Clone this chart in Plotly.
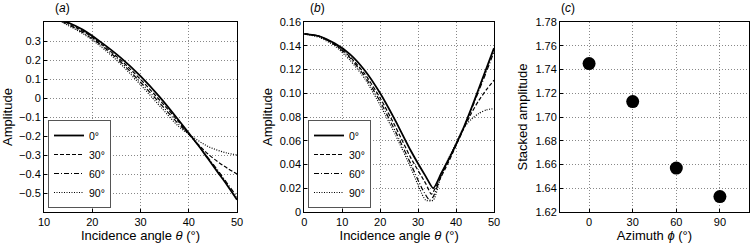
import plotly.graph_objects as go

# ---------------- data ----------------
azimuth_labels = ["0°", "30°", "60°", "90°"]

# panel (a)
a_theta = [10, 14, 18, 22, 26, 30, 34, 38, 40, 42, 44, 46, 48, 50]
a_0 = [0.47, 0.41, 0.36, 0.29, 0.21, 0.115, 0.005, -0.12, -0.185, -0.25, -0.32, -0.39, -0.46, -0.535]
a_30 = [0.46, 0.405, 0.352, 0.282, 0.197, 0.098, -0.012, -0.128, -0.19, -0.245, -0.295, -0.335, -0.37, -0.40]
a_60 = [0.455, 0.40, 0.345, 0.275, 0.187, 0.083, -0.027, -0.14, -0.19, -0.25, -0.315, -0.38, -0.45, -0.52]
a_90 = [0.45, 0.395, 0.34, 0.266, 0.176, 0.07, -0.042, -0.152, -0.19, -0.225, -0.255, -0.275, -0.29, -0.30]

# panel (b)
b_theta_0 = [0, 4, 8, 12, 16, 20, 24, 28, 32, 34, 36, 38, 40, 42, 44, 46, 48, 50]
b_0 = [0.150, 0.148, 0.142, 0.133, 0.119, 0.100, 0.077, 0.052, 0.030, 0.020, 0.032, 0.044, 0.057, 0.071, 0.087, 0.104, 0.121, 0.138]
b_theta_30 = [0, 4, 8, 12, 16, 20, 24, 28, 32, 33.5, 35, 38, 40, 42, 44, 46, 48, 50]
b_30 = [0.150, 0.148, 0.141, 0.131, 0.116, 0.096, 0.072, 0.046, 0.024, 0.015, 0.023, 0.042, 0.056, 0.070, 0.083, 0.094, 0.103, 0.111]
b_theta_60 = [0, 4, 8, 12, 16, 20, 24, 28, 31, 33, 34, 36, 38, 40, 42, 44, 46, 48, 50]
b_60 = [0.150, 0.148, 0.141, 0.130, 0.114, 0.093, 0.068, 0.041, 0.020, 0.010, 0.013, 0.030, 0.044, 0.057, 0.071, 0.086, 0.102, 0.118, 0.135]
b_theta_90 = [0, 4, 8, 12, 16, 20, 24, 28, 32, 34, 36, 38, 40, 42, 44, 46, 48, 50]
b_90 = [0.150, 0.147, 0.140, 0.128, 0.112, 0.090, 0.065, 0.038, 0.010, 0.010, 0.030, 0.045, 0.058, 0.071, 0.078, 0.083, 0.086, 0.087]

# panel (c)
c_azimuth = [0, 30, 60, 90]
c_stacked = [1.745, 1.713, 1.657, 1.633]

a_yticks = [-0.5, -0.4, -0.3, -0.2, -0.1, 0, 0.1, 0.2, 0.3]
a_yticktext = ["−0.5", "−0.4", "−0.3", "−0.2", "−0.1", "0", "0.1", "0.2", "0.3"]
b_yticks = [0, 0.02, 0.04, 0.06, 0.08, 0.10, 0.12, 0.14, 0.16]
b_yticktext = ["0", "0.02", "0.04", "0.06", "0.08", "0.10", "0.12", "0.14", "0.16"]
c_yticks = [1.62, 1.64, 1.66, 1.68, 1.70, 1.72, 1.74, 1.76, 1.78]
c_yticktext = ["1.62", "1.64", "1.66", "1.68", "1.70", "1.72", "1.74", "1.76", "1.78"]

# ---------------- figure ----------------
FONT = "Liberation Sans, Arial, Helvetica, sans-serif"
dashes = ["solid", "4px,2px", "5px,2px,1px,2px", "1px,1.5px"]
widths = [1.8, 1.2, 1.2, 1.2]

fig = go.Figure()

a_series = [a_0, a_30, a_60, a_90]
for lab, ys, d, w in zip(azimuth_labels, a_series, dashes, widths):
    fig.add_trace(go.Scatter(x=a_theta, y=ys, mode="lines", name=lab,
                             line=dict(color="black", dash=d, width=w, shape="spline"),
                             xaxis="x", yaxis="y", legend="legend"))

b_xs = [b_theta_0, b_theta_30, b_theta_60, b_theta_90]
b_series = [b_0, b_30, b_60, b_90]
for lab, xs, ys, d, w in zip(azimuth_labels, b_xs, b_series, dashes, widths):
    fig.add_trace(go.Scatter(x=xs, y=ys, mode="lines", name=lab,
                             line=dict(color="black", dash=d, width=w, shape="spline", smoothing=0.6),
                             xaxis="x2", yaxis="y2", legend="legend2"))

fig.add_trace(go.Scatter(x=c_azimuth, y=c_stacked, mode="markers", showlegend=False,
                         marker=dict(color="black", size=13),
                         xaxis="x3", yaxis="y3"))

ytop = 1 - 22 / 243
ybot = 1 - 212 / 243
grid = dict(showgrid=True, gridcolor="#888888", griddash="1px,2px", gridwidth=1,
            showline=True, linecolor="black", linewidth=1, mirror=True,
            ticks="inside", ticklen=3, tickcolor="black", zeroline=False,
            automargin=False,
            tickfont=dict(size=11, color="black", family=FONT))
title_font = dict(size=13, color="black", family=FONT)

legend_style = dict(xanchor="left", yanchor="bottom",
                    bgcolor="white", bordercolor="#555", borderwidth=1,
                    font=dict(size=10.5, family=FONT, color="black"),
                    tracegroupgap=0, itemwidth=30)

fig.update_layout(
    width=750, height=243,
    margin=dict(l=0, r=0, t=0, b=0),
    paper_bgcolor="white", plot_bgcolor="white",
    font=dict(family=FONT, color="black"),
    xaxis=dict(domain=[44 / 750, 237 / 750], range=[10, 50], tickvals=[10, 20, 30, 40, 50],
               title=dict(text="Incidence angle <i>θ</i> (°)", font=title_font, standoff=4),
               anchor="y", **grid),
    yaxis=dict(domain=[ybot, ytop], range=[-0.6, 0.4], tickvals=a_yticks, ticktext=a_yticktext,
               title=dict(text="Amplitude", font=title_font, standoff=4), anchor="x", **grid),
    xaxis2=dict(domain=[304.3 / 750, 494 / 750], range=[0, 50], tickvals=[0, 10, 20, 30, 40, 50],
                title=dict(text="Incidence angle <i>θ</i> (°)", font=title_font, standoff=4),
                anchor="y2", **grid),
    yaxis2=dict(domain=[ybot, ytop], range=[0, 0.16], tickvals=b_yticks, ticktext=b_yticktext,
                title=dict(text="Amplitude", font=title_font, standoff=4), anchor="x2", **grid),
    xaxis3=dict(domain=[560 / 750, 749 / 750], range=[-20, 110], tickvals=c_azimuth,
                title=dict(text="Azimuth <i>ϕ</i> (°)", font=title_font, standoff=4),
                anchor="y3", **grid),
    yaxis3=dict(domain=[ybot, ytop], range=[1.62, 1.78], tickvals=c_yticks, ticktext=c_yticktext,
                title=dict(text="Stacked amplitude", font=title_font, standoff=4), anchor="x3", **grid),
    legend=dict(x=48 / 750, y=1 - 208 / 243, **legend_style),
    legend2=dict(x=308 / 750, y=1 - 208 / 243, **legend_style),
    annotations=[
        dict(text="(<i>a</i>)", x=62 / 750, y=1 - 8 / 243, xref="paper", yref="paper",
             xanchor="center", yanchor="middle",
             showarrow=False, font=dict(size=12, family=FONT, color="black")),
        dict(text="(<i>b</i>)", x=317 / 750, y=1 - 8 / 243, xref="paper", yref="paper",
             xanchor="center", yanchor="middle",
             showarrow=False, font=dict(size=12, family=FONT, color="black")),
        dict(text="(<i>c</i>)", x=568 / 750, y=1 - 8 / 243, xref="paper", yref="paper",
             xanchor="center", yanchor="middle",
             showarrow=False, font=dict(size=12, family=FONT, color="black")),
    ],
)

fig.write_html("out.html", config={"displayModeBar": False},
               post_script="document.body.style.margin='0';document.body.style.overflow='hidden';")
